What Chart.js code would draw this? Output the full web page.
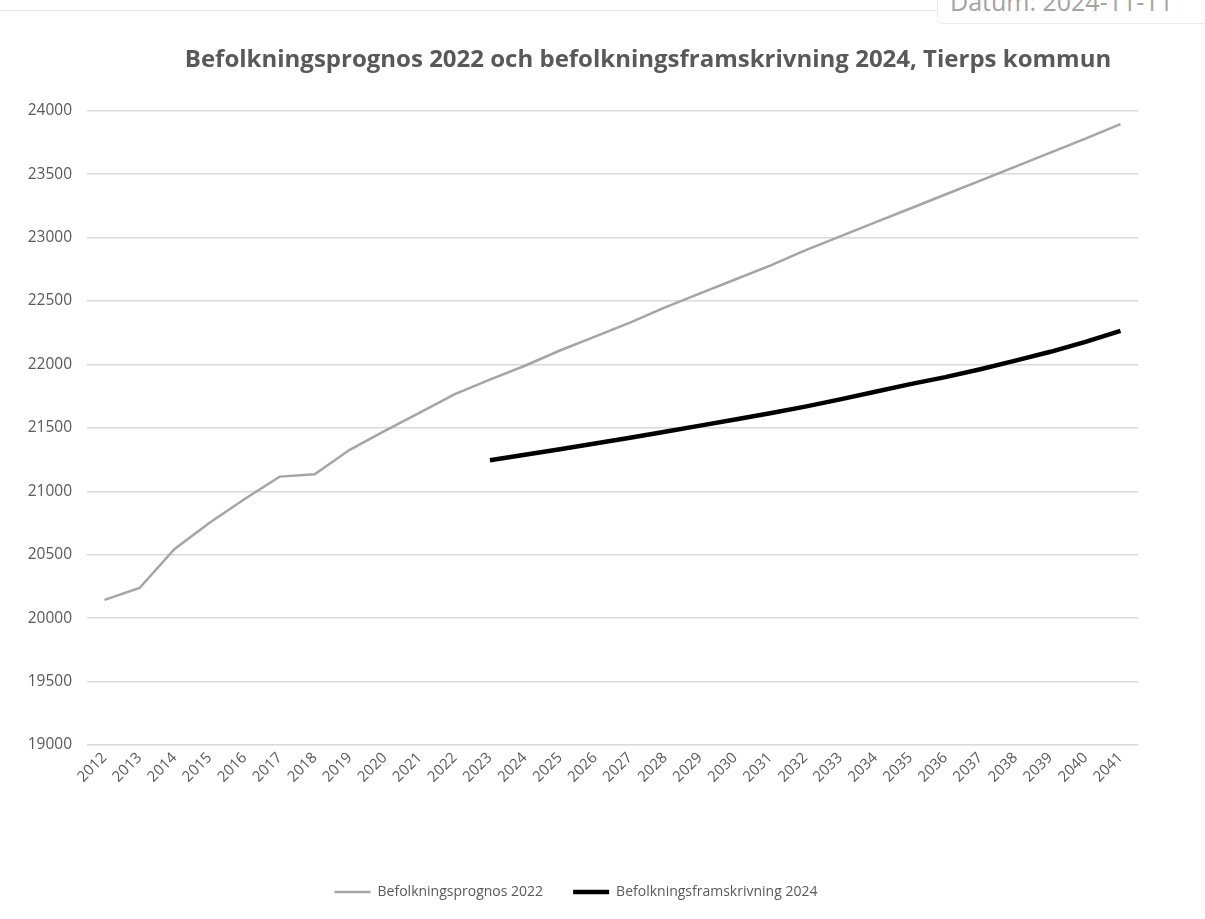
<!DOCTYPE html>
<html lang="sv">
<head>
<meta charset="utf-8">
<title>Befolkningsprognos Tierps kommun</title>
<script src="https://cdn.jsdelivr.net/npm/chart.js@4.4.1/dist/chart.umd.min.js"></script>
<style>
  html, body { margin: 0; padding: 0; background: #fff; }
  .page { position: relative; width: 1205px; height: 919px; overflow: hidden; }
  .topline { position: absolute; left: 0; top: 10px; width: 937px; height: 1px; background: #e6e6e6; }
  .datum {
    position: absolute; left: 937px; top: -24px; width: 300px; height: 48px;
    border: 1px solid #ececec; border-radius: 6px; box-sizing: border-box;
    font-family: "Open Sans", sans-serif; font-size: 25px; color: #a3a3a3;
    padding-left: 12px; line-height: 48px; white-space: nowrap;
  }
  .chart-box { position: absolute; left: 0; top: 0; width: 1205px; height: 919px; }
</style>
</head>
<body>
<div class="page">
  <div class="topline"></div>
  <div class="datum">Datum: 2024-11-11</div>
  <div class="chart-box"><canvas id="chart"></canvas></div>
</div>
<script>
// ── Data ───────────────────────────────────────────
const years = [
  '2012', '2013', '2014', '2015', '2016', '2017', '2018', '2019', '2020', '2021',
  '2022', '2023', '2024', '2025', '2026', '2027', '2028', '2029', '2030', '2031',
  '2032', '2033', '2034', '2035', '2036', '2037', '2038', '2039', '2040', '2041'
];

// Befolkningsprognos 2022 (grey)
const prognos2022 = [
  20144, 20238, 20546, 20753, 20940, 21116, 21135, 21327, 21476, 21621,
  21766, 21880, 21990, 22110, 22220, 22330, 22450, 22560, 22670, 22780,
  22900, 23010, 23120, 23230, 23340, 23450, 23560, 23670, 23780, 23895
];

// Befolkningsframskrivning 2024 (black), starts 2023
const framskrivning2024 = [
  null, null, null, null, null, null, null, null, null, null,
  null, 21245, 21288, 21332, 21377, 21422, 21470, 21518, 21566, 21615,
  21668, 21725, 21785, 21845, 21900, 21962, 22030, 22100, 22178, 22265
];

const yMin = 19000;
const yMax = 24000;
const yStep = 500;

// ── Chart ──────────────────────────────────────────
const textGrey = '#595959';
const fontFamily = '"Open Sans", sans-serif';

// nudge title/legend horizontally (Excel centres them differently)
const nudge = {
  id: 'nudge',
  afterLayout(chart) {
    const t = chart.titleBlock;
    if (t) { t.left += 79; t.right += 79; }
    const l = chart.legend;
    if (l) { l.left += 7; l.right += 7; }
  }
};

new Chart(document.getElementById('chart'), {
  type: 'line',
  data: {
    labels: years,
    datasets: [
      {
        label: 'Befolkningsprognos 2022',
        data: prognos2022,
        borderColor: '#a5a5a5',
        backgroundColor: '#a5a5a5',
        borderWidth: 2.5,
        pointRadius: 0,
        tension: 0
      },
      {
        label: 'Befolkningsframskrivning 2024',
        data: framskrivning2024,
        borderColor: '#000000',
        backgroundColor: '#000000',
        borderWidth: 4.5,
        pointRadius: 0,
        tension: 0,
        spanGaps: false
      }
    ]
  },
  options: {
    responsive: true,
    maintainAspectRatio: false,
    animation: false,
    layout: { padding: { top: 0, left: 0, right: 67, bottom: 10 } },
    plugins: {
      title: {
        display: true,
        text: 'Befolkningsprognos 2022 och befolkningsframskrivning 2024, Tierps kommun',
        color: textGrey,
        font: { family: fontFamily, size: 24, weight: 'bold' },
        padding: { top: 46, bottom: 36 }
      },
      legend: {
        position: 'bottom',
        labels: {
          usePointStyle: true,
          pointStyle: 'line',
          pointStyleWidth: 36,
          color: textGrey,
          font: { family: fontFamily, size: 14 },
          padding: 30
        }
      },
      tooltip: { enabled: false }
    },
    scales: {
      x: {
        offset: true,
        grid: { display: false, drawTicks: false },
        border: { display: false },
        ticks: {
          color: textGrey,
          font: { family: fontFamily, size: 15 },
          minRotation: 45,
          maxRotation: 45,
          autoSkip: false,
          padding: 4
        },
        afterFit: (scale) => { scale.height = 110; }
      },
      y: {
        min: yMin,
        max: yMax,
        grid: { color: '#d9d9d9', lineWidth: 1.5, drawTicks: false },
        border: { display: false },
        ticks: {
          stepSize: yStep,
          color: textGrey,
          font: { family: fontFamily, size: 15.5 },
          padding: 15,
          callback: (v) => String(v)
        },
        afterFit: (scale) => { scale.width = 87; }
      }
    }
  },
  plugins: [nudge]
});
</script>
</body>
</html>
